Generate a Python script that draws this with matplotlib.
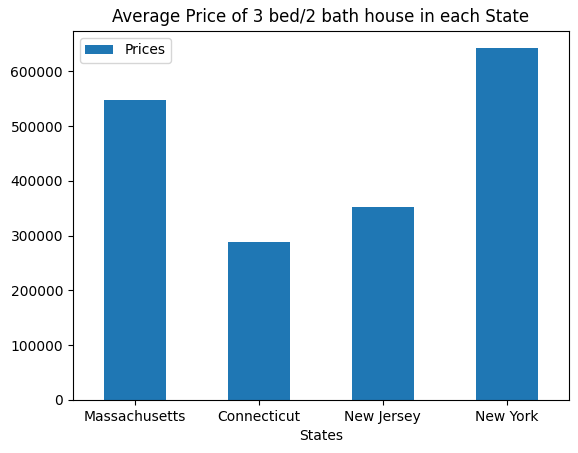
import matplotlib
matplotlib.use("Agg")
import matplotlib.pyplot as plt

states = ["Massachusetts", "Connecticut", "New Jersey", "New York"]
prices = [547000, 288000, 352000, 641700]

fig = plt.figure(figsize=(5.78, 4.53), dpi=100)
ax = fig.add_axes([0.126, 0.117, 0.858, 0.815])
x = range(len(states))
ax.bar(x, prices, width=0.5, color="#1f77b4", label="Prices")
ax.set_xticks(list(x))
ax.set_xticklabels(states, rotation=0)
ax.set_xlim(-0.5, len(states) - 0.5)
ax.set_xlabel("States")
ax.set_title("Average Price of 3 bed/2 bath house in each State")
ax.legend(loc="upper left")
fig.savefig("out.png", dpi=100)
